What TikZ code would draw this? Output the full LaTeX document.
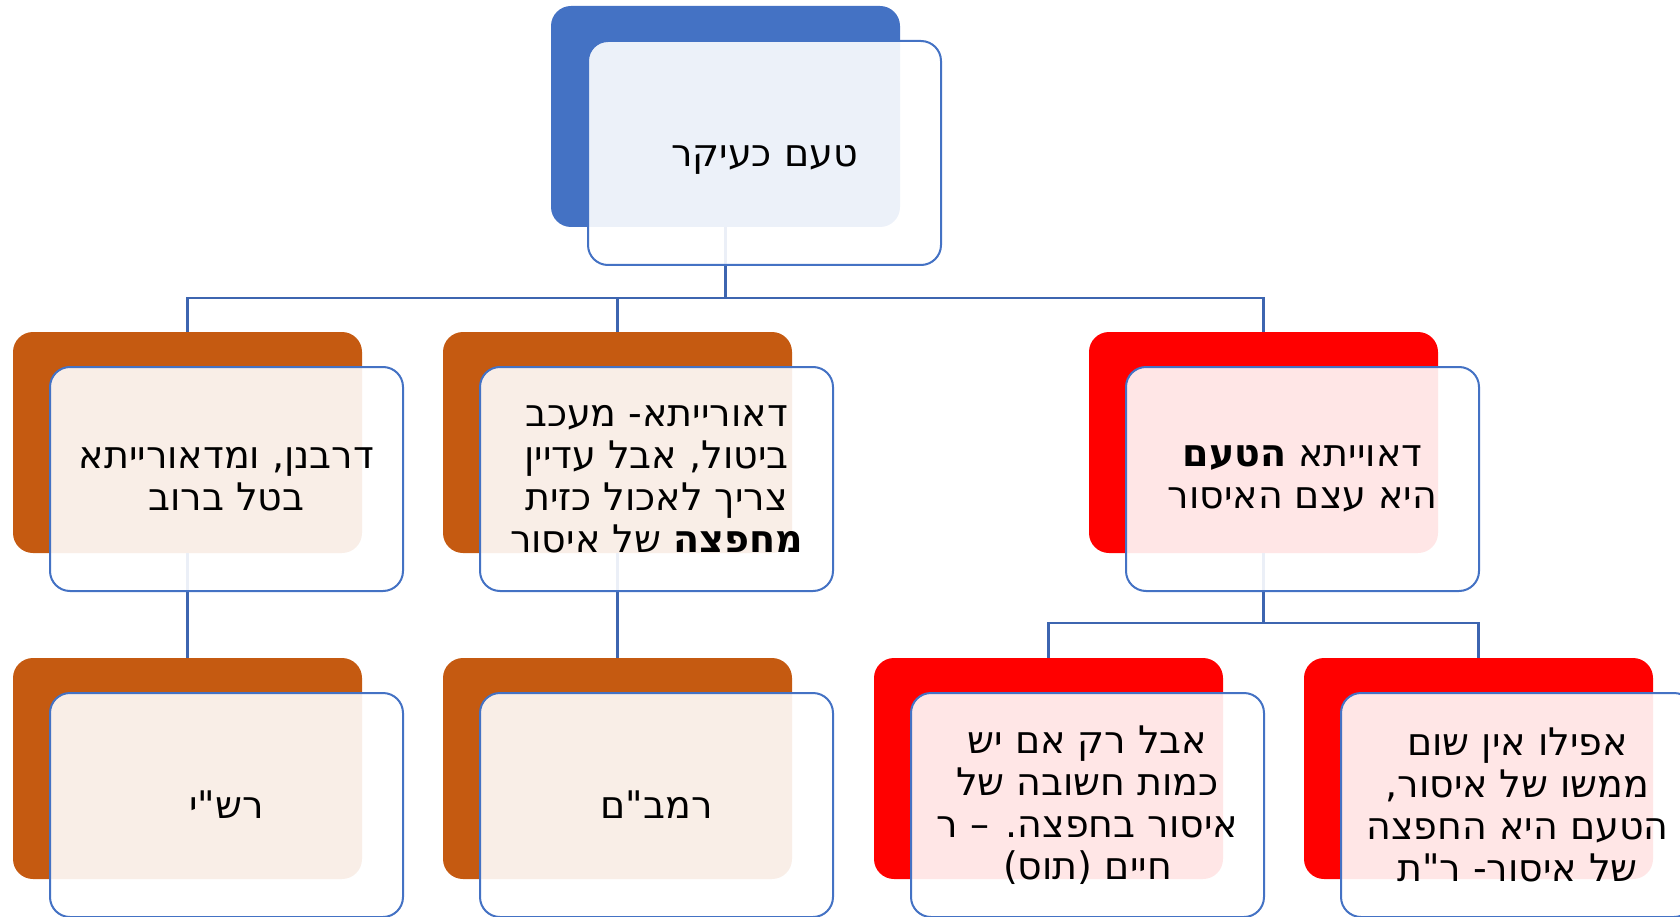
\documentclass[tikz,border=0pt]{standalone}
\usepackage{fontspec}
\usetikzlibrary{positioning}
\TeXXeTstate=1
\newfontfamily\hebfont[Script=Hebrew,Ligatures=TeXOff]{DejaVu Sans}
\newcommand{\heb}[1]{\beginR#1\endR}

\definecolor{topblue}{HTML}{4472C4}
\definecolor{rustorange}{HTML}{C55A11}
\definecolor{brightred}{HTML}{FF0000}
\definecolor{frameblue}{HTML}{4472C4}
\definecolor{linkblue}{HTML}{3D65B0}

\tikzset{
	backbox/.style={rectangle, rounded corners=20pt, inner sep=0pt,
		minimum width=349pt, minimum height=221pt},
	frontbox/.style={rectangle, rounded corners=20pt, inner sep=0pt,
		draw=frameblue, line width=2pt, fill=white, fill opacity=0.9, text opacity=1,
		minimum width=353pt, minimum height=224pt, align=center,
		font=\hebfont\fontsize{38}{42}\selectfont, xshift=39pt, yshift=-36.5pt},
	link/.style={draw=linkblue, line width=2.5pt}
}

\begin{document}
\begin{tikzpicture}[x=1pt, y=-1pt]
	\useasboundingbox (0,0) rectangle (1680,917);

	% back boxes
	\node[backbox, fill=topblue] (ikar-b) at (725.5,116.5) {};
	\node[backbox, fill=rustorange] (rabbanan-b) at (187.5,442.5) {};
	\node[backbox, fill=rustorange] (chefza-b) at (617.5,442.5) {};
	\node[backbox, fill=brightred] (etzem-b) at (1263.5,442.5) {};
	\node[backbox, fill=rustorange] (rashi-b) at (187.5,768.5) {};
	\node[backbox, fill=rustorange] (rambam-b) at (617.5,768.5) {};
	\node[backbox, fill=brightred] (rchaim-b) at (1048.5,768.5) {};
	\node[backbox, fill=brightred] (rt-b) at (1478.5,768.5) {};

	% connectors
	\coordinate (bar1) at (725.5,298);
	\coordinate (bar2) at (1263.5,623);
	\draw[link] (ikar-b.south) -- (bar1);
	\draw[link] (bar1) -| (rabbanan-b.north);
	\draw[link] (bar1) -| (chefza-b.north);
	\draw[link] (bar1) -| (etzem-b.north);
	\draw[link] (rabbanan-b.south) -- (rashi-b.north);
	\draw[link] (chefza-b.south) -- (rambam-b.north);
	\draw[link] (etzem-b.south) -- (bar2);
	\draw[link] (bar2) -| (rchaim-b.north);
	\draw[link] (bar2) -| (rt-b.north);

	% front boxes with the texts
	\node[frontbox] (ikar) at (ikar-b.center)
		{\raisebox{-14pt}[0pt][0pt]{\heb{טעם כעיקר}}};
	\node[frontbox] (rabbanan) at (rabbanan-b.center)
		{\heb{דרבנן, ומדאורייתא}\\ \heb{בטל ברוב}};
	\node[frontbox] (chefza) at (chefza-b.center)
		{\heb{דאורייתא- מעכב}\\ \heb{ביטול, אבל עדיין}\\ \heb{צריך לאכול כזית}\\ \heb{\textbf{מחפצה} של איסור}};
	\node[frontbox] (etzem) at (etzem-b.center)
		{\heb{דאוייתא \textbf{הטעם}}\\ \heb{היא עצם האיסור}};
	\node[frontbox] (rashi) at (rashi-b.center) {\heb{רש"י}};
	\node[frontbox] (rambam) at (rambam-b.center) {\heb{רמב"ם}};
	\node[frontbox] (rchaim) at (rchaim-b.center)
		{\heb{אבל רק אם יש}\\ \heb{כמות חשובה של}\\ \heb{איסור בחפצה. – ר}\\ \heb{חיים (תוס)}};
	\node[frontbox] (rt) at (rt-b.center)
		{\heb{אפילו אין שום}\\ \heb{ממשו של איסור,}\\ \heb{הטעם היא החפצה}\\ \heb{של איסור- ר"ת}};
\end{tikzpicture}
\end{document}
